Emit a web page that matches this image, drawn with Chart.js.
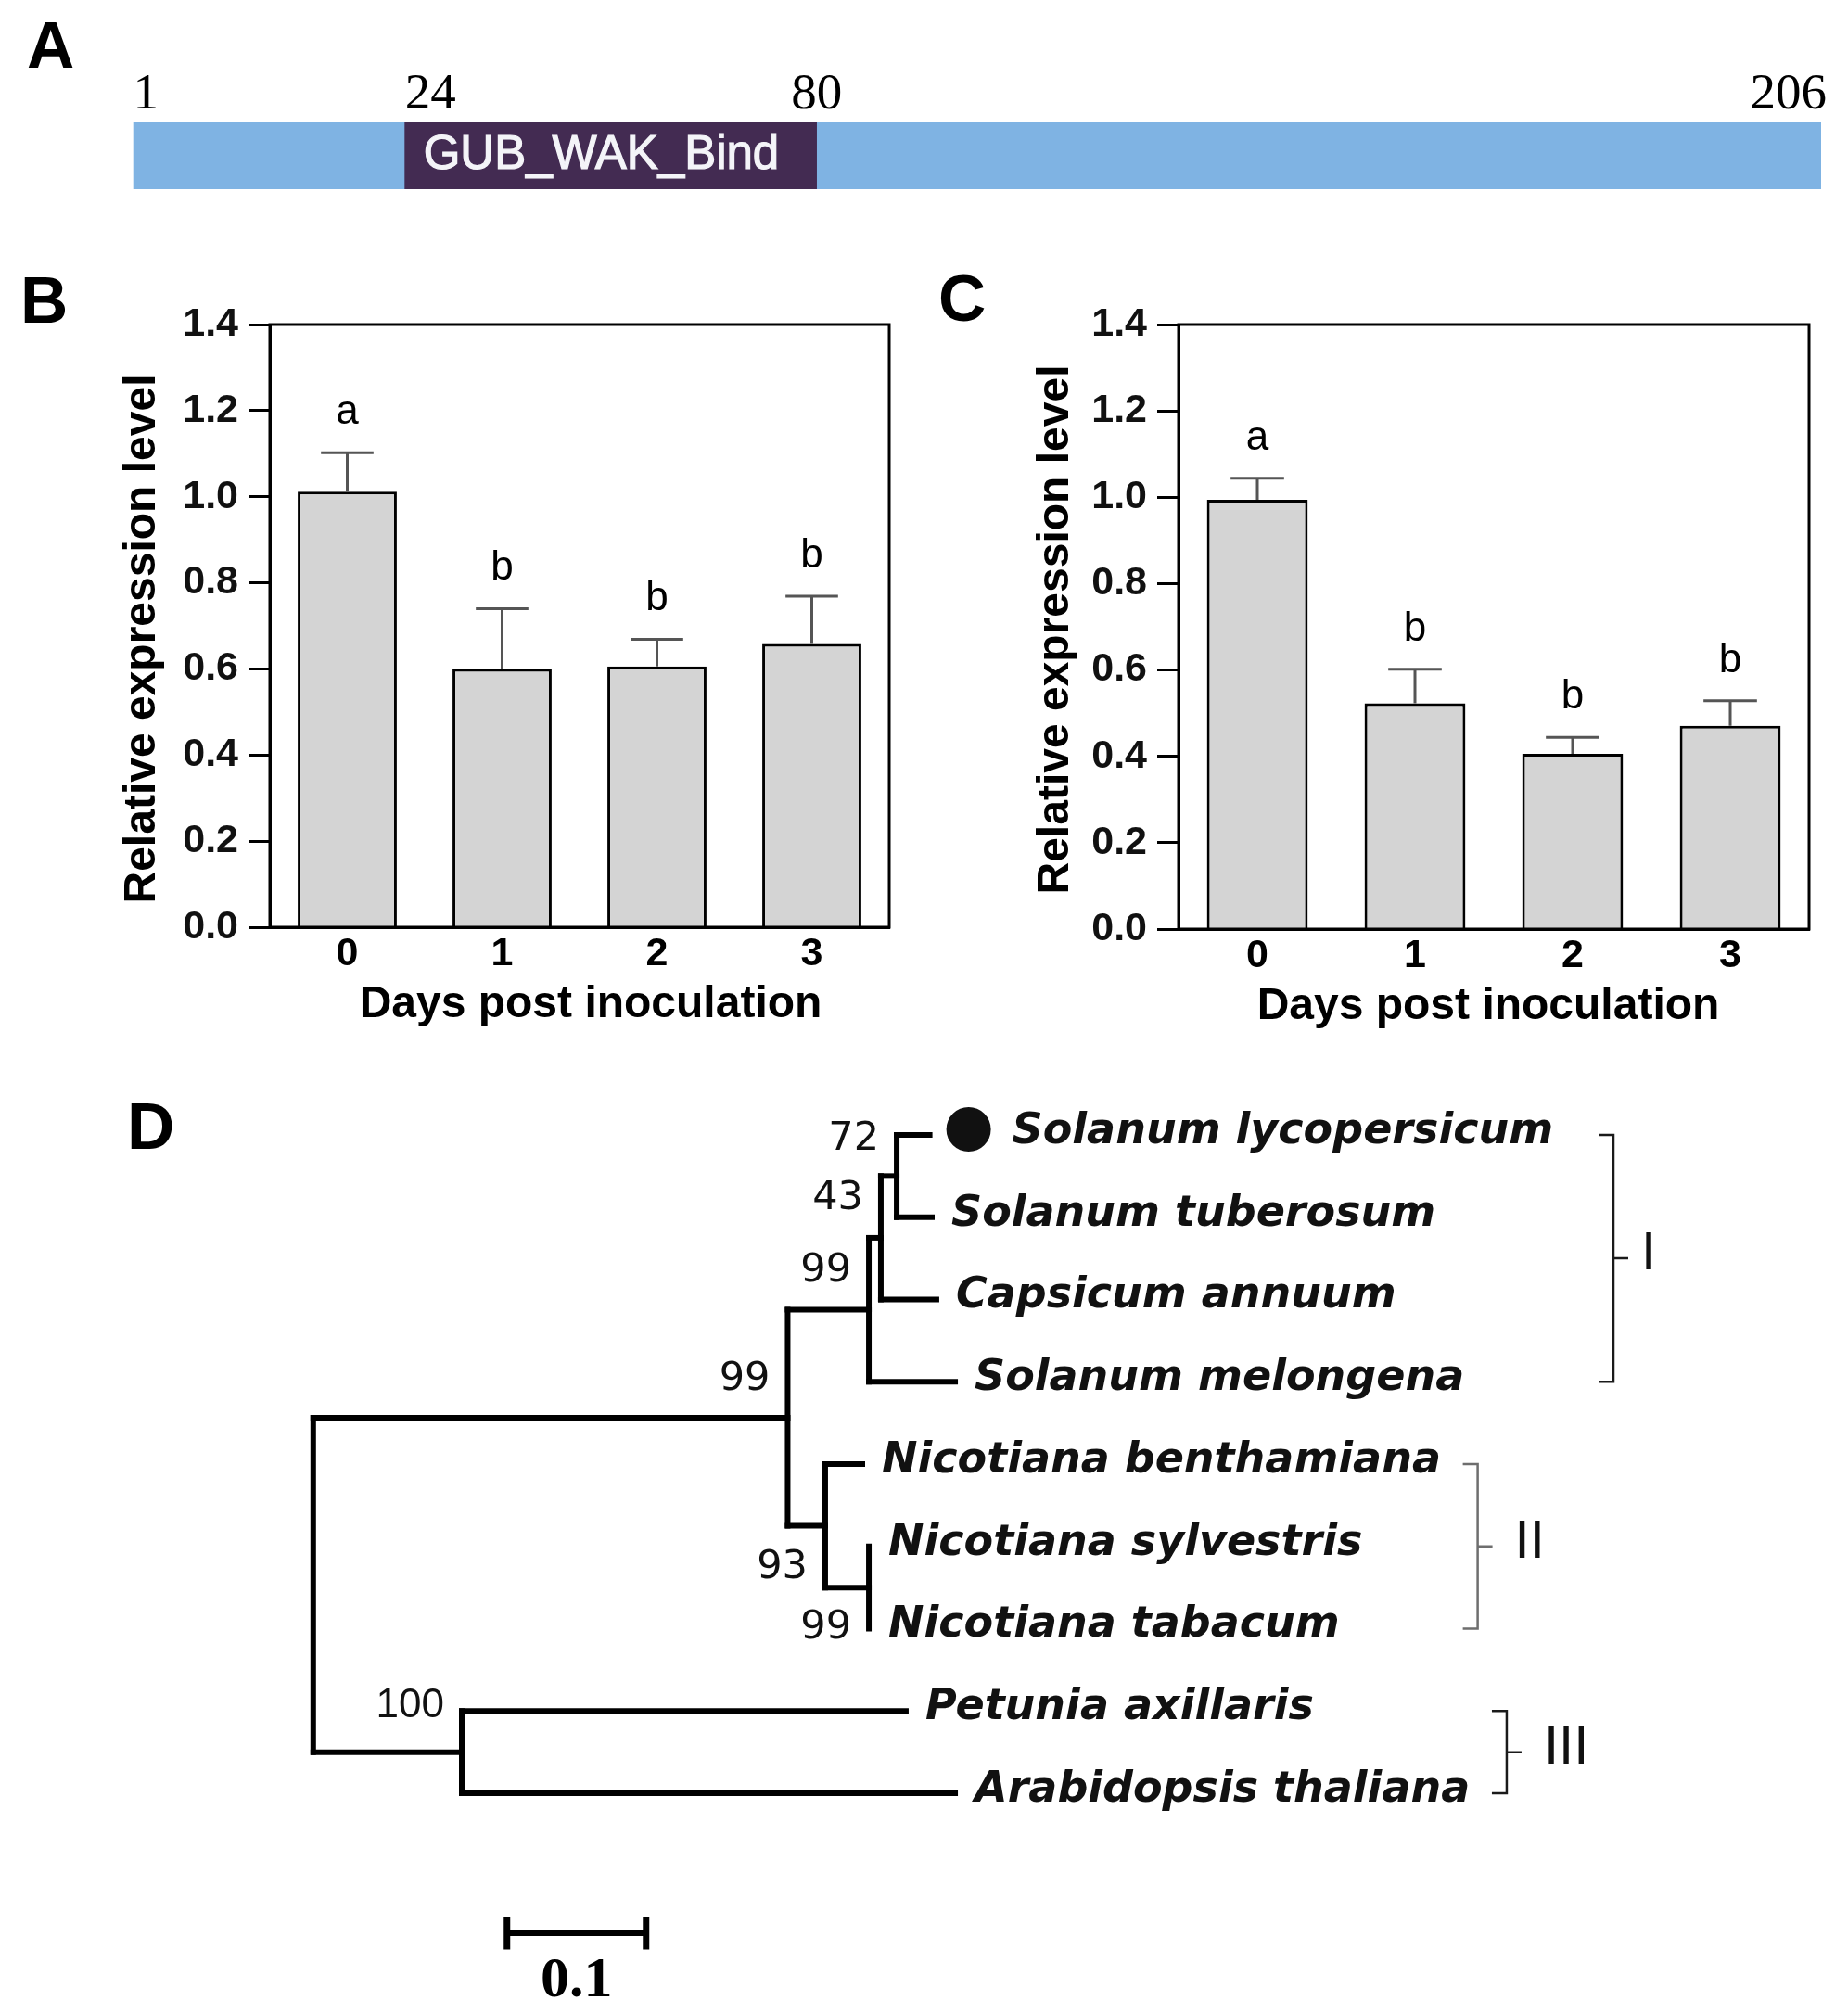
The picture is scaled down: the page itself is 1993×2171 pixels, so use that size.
<!DOCTYPE html>
<html lang="en">
<head>
<meta charset="utf-8">
<title>GUB_WAK_Bind protein: domain, expression and phylogeny</title>
<script src="https://cdn.jsdelivr.net/npm/chart.js@4.4.1/dist/chart.umd.min.js"></script>
<style>
  html, body { margin: 0; padding: 0; background: #fff; }
  #figure { position: relative; width: 1993px; height: 2171px; overflow: hidden; background: #fff; }
  #figure canvas { position: absolute; }
</style>
</head>
<body>
<div id="figure">
  <canvas id="panelA" width="1993" height="250" style="left:0;top:0"></canvas>
  <canvas id="panelB" width="990" height="850" style="left:0;top:280px"></canvas>
  <canvas id="panelC" width="1003" height="850" style="left:990px;top:280px"></canvas>
  <canvas id="panelD" width="1993" height="1031" style="left:0;top:1140px"></canvas>
</div>
<script>
'use strict';

// ---------------------------------------------------------------------------
// data
// ---------------------------------------------------------------------------

// A: protein schematic
const proteinSpan = [1, 206];
const domainLabel = 'GUB_WAK_Bind';
// the box in the picture is a sketch, not to scale: it sits at ~34-84 on the 1-206 bar
const domainSpan = [34, 84];
const residueTicks = ['1', '24', '80', '206'];
const residueTickAt = [1, 34, 84, 206];

// B, C: relative expression (mean + SE), days post inoculation
const dpiLabels = ['0', '1', '2', '3'];
const exprTicks = [0, 0.2, 0.4, 0.6, 0.8, 1.0, 1.2, 1.4];
const exprB = [1.012, 0.600, 0.606, 0.658];
const errB = [0.090, 0.140, 0.063, 0.111];
const sigB = ['a', 'b', 'b', 'b'];
const exprC = [0.994, 0.523, 0.406, 0.471];
const errC = [0.050, 0.079, 0.038, 0.058];
const sigC = ['a', 'b', 'b', 'b'];

// D: neighbour-joining tree (depth = distance from root)
const taxa = [
    'Solanum lycopersicum', 'Solanum tuberosum', 'Capsicum annuum', 'Solanum melongena',
    'Nicotiana benthamiana', 'Nicotiana sylvestris', 'Nicotiana tabacum',
    'Petunia axillaris', 'Arabidopsis thaliana',
];
const taxonParent = ['n4', 'n4', 'n3', 'n2', 'n5', 'n6', 'n6', 'n7', 'n7'];
const taxonDepth = [0.4432, 0.4448, 0.4481, 0.4615, 0.3948, 0.3995, 0.3995, 0.4261, 0.4615];
const nodeIds = ['root', 'n1', 'n2', 'n3', 'n4', 'n5', 'n6', 'n7'];
const nodeParent = [null, 'root', 'n1', 'n2', 'n3', 'n1', 'n5', 'root'];
const nodeDepth = [0, 0.3411, 0.3995, 0.4081, 0.4195, 0.3681, 0.3995, 0.1068];
const nodeSupport = [null, 99, 99, 43, 72, 93, 99, 100];
const markedTaxon = 0;
const cladeNames = ['I', 'II', 'III'];
const cladeFirst = [0, 4, 7];
const cladeLast = [3, 6, 8];
const scaleBarLength = 0.1;
const scaleBarLabel = '0.1';

// ---------------------------------------------------------------------------
// style
// ---------------------------------------------------------------------------

const SANS = '"Liberation Sans", Arial, sans-serif';
const DEJAVU = '"DejaVu Sans", Verdana, sans-serif';
const SERIF = '"Liberation Serif", "Times New Roman", serif';

const BASE_OPTS = {
    responsive: false,
    animation: false,
    devicePixelRatio: 1,
    events: [],
};

// bootstrap label offset (px) from node centre
const supportOffset = { n1: -41, n2: -42, n3: -42, n4: -40, n5: 45, n6: 44, n7: -50 };
const scaleBarAt = { x: 0.1393, row: 9.7 };
// clade bracket spine, in tree-distance units, and label gap in px
const bracketAt = [0.9348, 0.8372, 0.8581];
const bracketLabelGap = [30, 40, 40];
const bracketColors = ['#1a1a1a', '#6e6e6e', '#1a1a1a'];

// ---------------------------------------------------------------------------
// A
// ---------------------------------------------------------------------------

const proteinPlugin = {
    id: 'protein',
    afterDraw(chart) {
        const { ctx, scales: { x } } = chart;
        ctx.save();
        ctx.fillStyle = '#000';
        ctx.textBaseline = 'alphabetic';
        ctx.font = `bold 71px ${SANS}`;
        ctx.textAlign = 'left';
        ctx.fillText('A', 29, 73);

        ctx.font = `55px ${SERIF}`;
        const aligns = ['left', 'left', 'center', 'right'];
        residueTicks.forEach((t, i) => {
            ctx.textAlign = aligns[i];
            ctx.fillText(t, x.getPixelForValue(residueTickAt[i]) + (i === 3 ? 6 : 0), 117);
        });

        ctx.fillStyle = '#f4f4f8';
        ctx.strokeStyle = '#f4f4f8';
        ctx.lineWidth = 1.2;
        ctx.font = `51px ${SANS}`;
        ctx.textAlign = 'left';
        const tx = x.getPixelForValue(domainSpan[0]) + 20;
        ctx.fillText(domainLabel, tx, 182);
        ctx.strokeText(domainLabel, tx, 182);
        ctx.restore();
    },
};

new Chart(document.getElementById('panelA'), {
    type: 'bar',
    data: {
        labels: ['protein'],
        datasets: [
            { data: [domainSpan], backgroundColor: '#432b52', grouped: false, order: 1,
              barPercentage: 1, categoryPercentage: 1, borderWidth: 0 },
            { data: [proteinSpan], backgroundColor: '#7fb3e3', grouped: false, order: 2,
              barPercentage: 1, categoryPercentage: 1, borderWidth: 0 },
        ],
    },
    options: {
        ...BASE_OPTS,
        indexAxis: 'y',
        layout: { padding: { left: 143.6, right: 29, top: 132, bottom: 46 } },
        plugins: { legend: { display: false }, tooltip: { enabled: false } },
        scales: {
            x: { type: 'linear', min: proteinSpan[0], max: proteinSpan[1], display: false },
            y: { display: false },
        },
    },
    plugins: [proteinPlugin],
});

// ---------------------------------------------------------------------------
// B, C
// ---------------------------------------------------------------------------

function exprPlugin(letter, values, errs, letters, look) {
    return {
        id: 'expr' + letter,
        afterDatasetsDraw(chart) {
            const { ctx, chartArea: a, scales: { y } } = chart;
            const meta = chart.getDatasetMeta(0);
            ctx.save();
            // error bars, upper half only
            ctx.strokeStyle = '#555';
            ctx.lineWidth = 3;
            ctx.fillStyle = '#000';
            ctx.font = `44px ${SANS}`;
            ctx.textAlign = 'center';
            ctx.textBaseline = 'alphabetic';
            meta.data.forEach((bar, i) => {
                const top = y.getPixelForValue(values[i]);
                const hi = y.getPixelForValue(values[i] + errs[i]);
                const half = bar.width * 0.265;
                ctx.beginPath();
                ctx.moveTo(bar.x, top);
                ctx.lineTo(bar.x, hi);
                ctx.moveTo(bar.x - half, hi);
                ctx.lineTo(bar.x + half, hi);
                ctx.stroke();
                ctx.fillText(letters[i], bar.x, hi - 31);
            });
            // frame
            ctx.strokeStyle = '#000';
            ctx.lineWidth = 3;
            ctx.strokeRect(a.left, a.top, a.right - a.left, a.bottom - a.top);
            ctx.restore();
        },
        afterDraw(chart) {
            const { ctx, chartArea: a } = chart;
            ctx.save();
            ctx.fillStyle = '#000';
            ctx.textBaseline = 'alphabetic';
            ctx.textAlign = 'left';
            ctx.font = `bold 71px ${SANS}`;
            ctx.fillText(letter, look.letterAt[0], look.letterAt[1]);

            ctx.font = `bold 48px ${SANS}`;
            ctx.textAlign = 'center';
            ctx.fillText('Days post inoculation', (a.left + a.right) / 2 + look.xTitleDx, a.bottom + 97);

            ctx.translate(a.left - 137 + look.yTitleDx, (a.top + a.bottom) / 2 + look.yTitleDy);
            ctx.rotate(-Math.PI / 2);
            ctx.textBaseline = 'middle';
            ctx.fillText('Relative expression level', 0, 0);
            ctx.restore();
        },
    };
}

function drawExpression(canvasId, letter, values, errs, letters, area, look) {
    const canvas = document.getElementById(canvasId);
    const W = canvas.width, H = canvas.height;
    const tickFont = { family: SANS, size: 43, weight: 'bold' };
    return new Chart(canvas, {
        type: 'bar',
        data: {
            labels: dpiLabels,
            datasets: [{
                data: values,
                backgroundColor: '#d4d4d4',
                borderColor: '#000',
                borderWidth: 3,
                barPercentage: 0.64,
                categoryPercentage: 1,
            }],
        },
        options: {
            ...BASE_OPTS,
            layout: { padding: { left: 0, top: area.top, right: W - area.right, bottom: 0 } },
            plugins: { legend: { display: false }, tooltip: { enabled: false } },
            scales: {
                x: {
                    grid: { display: false, drawTicks: false, tickLength: 0 },
                    border: { display: true, color: '#000', width: 3 },
                    ticks: { color: '#000', font: tickFont, padding: 3 },
                    afterFit: (s) => { s.height = H - area.bottom; },
                },
                y: {
                    min: 0,
                    max: 1.4,
                    afterBuildTicks: (s) => { s.ticks = exprTicks.map((v) => ({ value: v })); },
                    ticks: {
                        color: '#111', font: tickFont, padding: 11, autoSkip: false,
                        callback: (v) => Number(v).toFixed(1),
                    },
                    grid: {
                        drawOnChartArea: false, drawTicks: true, tickLength: 23,
                        tickWidth: 3, tickColor: '#000',
                    },
                    border: { display: true, color: '#000', width: 3 },
                    afterFit: (s) => { s.width = area.left; },
                },
            },
        },
        plugins: [exprPlugin(letter, values, errs, letters, look)],
    });
}

drawExpression('panelB', 'B', exprB, errB, sigB,
    { left: 291, right: 959, top: 70, bottom: 720 },
    { letterAt: [22, 68], xTitleDx: 12, yTitleDx: 0, yTitleDy: 14 });
drawExpression('panelC', 'C', exprC, errC, sigC,
    { left: 281, right: 961, top: 70, bottom: 722 },
    { letterAt: [22, 66], xTitleDx: -6, yTitleDx: 5, yTitleDy: 3 });

// ---------------------------------------------------------------------------
// D
// ---------------------------------------------------------------------------

function layoutTree() {
    const rowOf = {}, depthOf = {}, parentOf = {}, span = {}, children = {};
    nodeIds.forEach((id, i) => {
        children[id] = [];
        depthOf[id] = nodeDepth[i];
        parentOf[id] = nodeParent[i];
    });
    taxa.forEach((t, i) => {
        const id = 't' + i;
        rowOf[id] = i;
        depthOf[id] = taxonDepth[i];
        parentOf[id] = taxonParent[i];
    });
    Object.keys(parentOf).forEach((id) => { if (parentOf[id]) children[parentOf[id]].push(id); });

    function rowFor(id) {
        if (id in rowOf) return rowOf[id];
        const rows = children[id].map(rowFor);
        span[id] = [Math.min(...rows), Math.max(...rows)];
        rowOf[id] = (span[id][0] + span[id][1]) / 2;
        return rowOf[id];
    }
    rowFor('root');

    const segments = [];
    Object.keys(parentOf).forEach((id) => {
        const p = parentOf[id];
        if (!p || depthOf[id] <= depthOf[p]) return;
        segments.push([{ x: depthOf[p], y: rowOf[id] }, { x: depthOf[id], y: rowOf[id] }]);
    });
    nodeIds.forEach((id) => {
        segments.push([{ x: depthOf[id], y: span[id][0] }, { x: depthOf[id], y: span[id][1] }]);
    });
    return { rowOf, depthOf, segments };
}

const tree = layoutTree();

const treePlugin = {
    id: 'tree',
    afterDraw(chart) {
        const { ctx, scales: { x, y } } = chart;
        ctx.save();
        ctx.fillStyle = '#000';
        ctx.textBaseline = 'alphabetic';
        ctx.textAlign = 'left';
        ctx.font = `bold 71px ${SANS}`;
        ctx.fillText('D', 137, 99);

        // bootstrap values
        ctx.textAlign = 'right';
        ctx.textBaseline = 'middle';
        nodeIds.forEach((id, i) => {
            if (nodeSupport[i] == null) return;
            ctx.font = nodeSupport[i] >= 100 ? `44px ${SANS}` : `43px ${DEJAVU}`;
            ctx.fillStyle = '#111';
            ctx.fillText(String(nodeSupport[i]),
                x.getPixelForValue(tree.depthOf[id]) - 19,
                y.getPixelForValue(tree.rowOf[id]) + supportOffset[id]);
        });

        // taxon names
        ctx.font = `italic bold 46px ${DEJAVU}`;
        ctx.textAlign = 'left';
        ctx.fillStyle = '#111';
        taxa.forEach((name, i) => {
            const xEnd = x.getPixelForValue(taxonDepth[i]);
            const yy = y.getPixelForValue(i);
            let tx = xEnd + 21;
            if (i === markedTaxon) {
                ctx.beginPath();
                ctx.arc(xEnd + 42, yy - 6, 24, 0, Math.PI * 2);
                ctx.fill();
                tx = xEnd + 89;
            }
            ctx.fillText(name, tx, yy - 3);
        });

        // clade brackets
        cladeNames.forEach((c, k) => {
            const xv = x.getPixelForValue(bracketAt[k]);
            const x0 = xv - 16;
            const y0 = y.getPixelForValue(cladeFirst[k]);
            const y1 = y.getPixelForValue(cladeLast[k]);
            const ym = (y0 + y1) / 2;
            ctx.strokeStyle = bracketColors[k];
            ctx.lineWidth = 2.5;
            ctx.beginPath();
            ctx.moveTo(x0, y0); ctx.lineTo(xv, y0); ctx.lineTo(xv, y1); ctx.lineTo(x0, y1);
            ctx.moveTo(xv, ym); ctx.lineTo(xv + 16, ym);
            ctx.stroke();
            ctx.fillStyle = '#111';
            ctx.font = `58px ${SANS}`;
            ctx.fillText(c, xv + bracketLabelGap[k], ym - 4);
        });

        // scale bar caps + label
        const sx0 = x.getPixelForValue(scaleBarAt.x);
        const sx1 = x.getPixelForValue(scaleBarAt.x + scaleBarLength);
        const sy = y.getPixelForValue(scaleBarAt.row);
        ctx.strokeStyle = '#000';
        ctx.lineWidth = 7;
        ctx.beginPath();
        ctx.moveTo(sx0, sy - 17.5); ctx.lineTo(sx0, sy + 17.5);
        ctx.moveTo(sx1, sy - 17.5); ctx.lineTo(sx1, sy + 17.5);
        ctx.stroke();
        ctx.fillStyle = '#000';
        ctx.font = `bold 62px ${SERIF}`;
        ctx.textAlign = 'center';
        ctx.textBaseline = 'alphabetic';
        ctx.fillText(scaleBarLabel, (sx0 + sx1) / 2, sy + 68);
        ctx.restore();
    },
};

const treeDatasets = tree.segments.map((seg) => ({
    data: seg,
    showLine: true,
    borderColor: '#000',
    borderWidth: 6,
    borderCapStyle: 'square',
    pointRadius: 0,
    clip: false,
}));
treeDatasets.push({
    data: [{ x: scaleBarAt.x, y: scaleBarAt.row }, { x: scaleBarAt.x + scaleBarLength, y: scaleBarAt.row }],
    showLine: true,
    borderColor: '#000',
    borderWidth: 6,
    pointRadius: 0,
    clip: false,
});

new Chart(document.getElementById('panelD'), {
    type: 'scatter',
    data: { datasets: treeDatasets },
    options: {
        ...BASE_OPTS,
        layout: { padding: { left: 187.8, right: 155.2, top: 39.6, bottom: 15.1 } },
        plugins: { legend: { display: false }, tooltip: { enabled: false } },
        scales: {
            x: { type: 'linear', min: -0.1, max: 1.0, display: false },
            y: { type: 'linear', min: -0.5, max: 10.5, reverse: true, display: false },
        },
    },
    plugins: [treePlugin],
});
</script>
</body>
</html>
